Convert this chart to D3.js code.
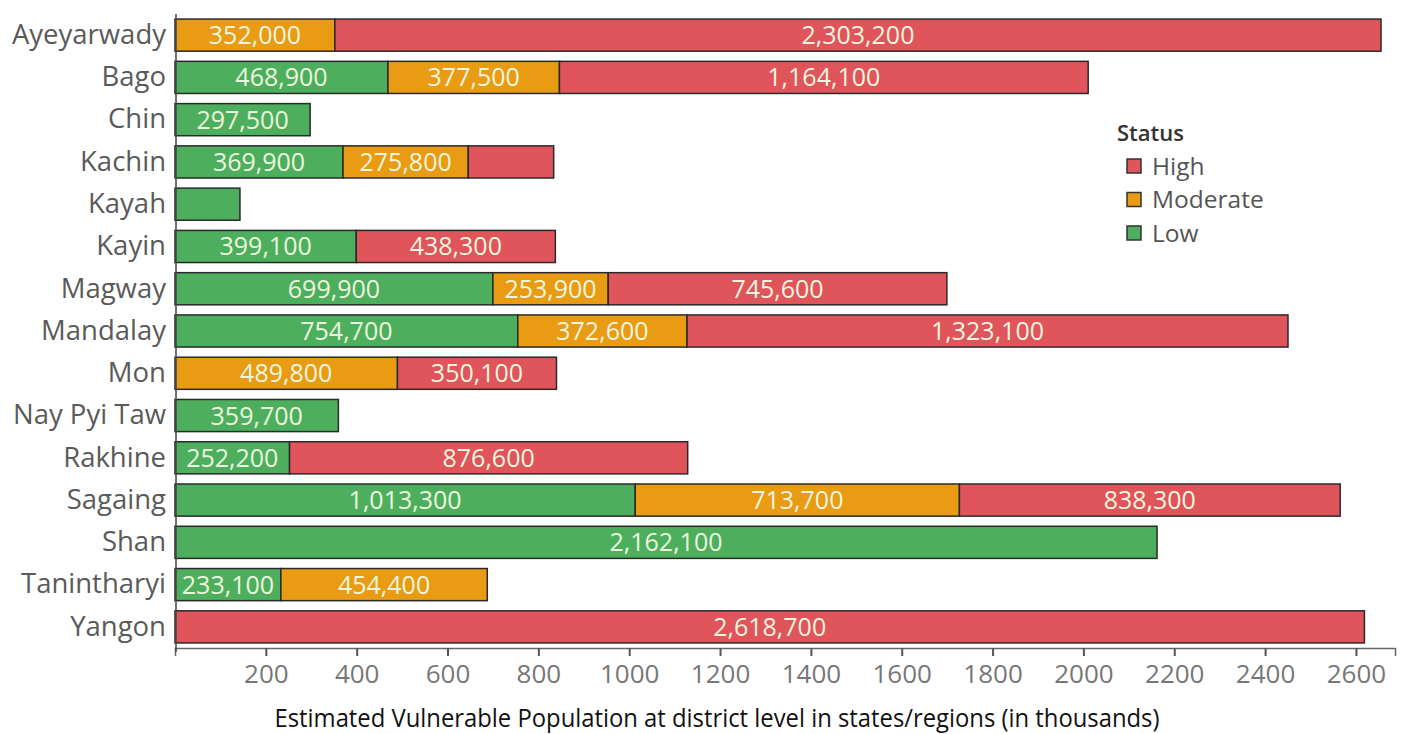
<!DOCTYPE html>
<html>
<head>
<meta charset="utf-8">
<script src="https://cdn.jsdelivr.net/npm/d3@7"></script>
<style>
  body { margin: 0; background: #fff; }
  svg text { font-family: "Open Sans", "Noto Sans", sans-serif; }
</style>
</head>
<body>
<div id="chart"></div>
<script>
var regions = ["Ayeyarwady", "Bago", "Chin", "Kachin", "Kayah", "Kayin", "Magway",
  "Mandalay", "Mon", "Nay Pyi Taw", "Rakhine", "Sagaing", "Shan", "Tanintharyi", "Yangon"];

// thousands of people
var lowValues      = [0, 468.9, 297.5, 369.9, 143, 399.1, 699.9, 754.7, 0, 359.7, 252.2, 1013.3, 2162.1, 233.1, 0];
var moderateValues = [352.0, 377.5, 0, 275.8, 0, 0, 253.9, 372.6, 489.8, 0, 0, 713.7, 0, 454.4, 0];
var highValues     = [2303.2, 1164.1, 0, 188, 0, 438.3, 745.6, 1323.1, 350.1, 0, 876.6, 838.3, 0, 0, 2618.7];

var statuses = ["Low", "Moderate", "High"];
var legendOrder = ["High", "Moderate", "Low"];
var xTicks = [200, 400, 600, 800, 1000, 1200, 1400, 1600, 1800, 2000, 2200, 2400, 2600];

var colors = { Low: "#4daf5e", Moderate: "#e99b14", High: "#e0545b" };

var width = 1403, height = 734;
var margin = {top: 14, right: 8, bottom: 86, left: 175};

var rows = regions.map(function(r, i) {
  return { region: r, Low: lowValues[i], Moderate: moderateValues[i], High: highValues[i] };
});

var svg = d3.select("#chart").append("svg")
    .attr("width", width)
    .attr("height", height);

var x = d3.scaleLinear().domain([0, 2686]).range([margin.left, width - margin.right]);
var y = d3.scaleBand().domain(regions).range([margin.top, height - margin.bottom])
    .paddingInner(0.24).paddingOuter(0.12);

var stacked = d3.stack().keys(statuses)(rows);

var layer = svg.selectAll(".layer")
    .data(stacked)
  .enter().append("g")
    .attr("class", "layer");

layer.selectAll("rect")
    .data(function(d) { return d.filter(function(s) { return s[1] - s[0] > 0; }); })
  .enter().append("rect")
    .attr("x", function(d) { return x(d[0]); })
    .attr("y", function(d) { return y(d.data.region); })
    .attr("width", function(d) { return x(d[1]) - x(d[0]); })
    .attr("height", y.bandwidth())
    .attr("fill", function() { return colors[d3.select(this.parentNode).datum().key]; })
    .attr("stroke", "#2a2a2a")
    .attr("stroke-width", 1.5);

// value labels, skip the small segments
layer.selectAll("text")
    .data(function(d) { return d.filter(function(s) { return s[1] - s[0] >= 200; }); })
  .enter().append("text")
    .attr("x", function(d) { return (x(d[0]) + x(d[1])) / 2; })
    .attr("y", function(d) { return y(d.data.region) + y.bandwidth() / 2; })
    .attr("dy", "0.36em")
    .attr("text-anchor", "middle")
    .attr("fill", "#ecf6df")
    .style("font-size", "25px")
    .text(function(d) { return d3.format(",")(Math.round((d[1] - d[0]) * 1000)); });

// axes
var xAxis = svg.append("g")
    .attr("transform", "translate(0," + (height - margin.bottom) + ")")
    .call(d3.axisBottom(x).tickValues(xTicks).tickFormat(d3.format("d")).tickSize(8).tickPadding(9));
xAxis.select(".domain").attr("stroke", "#666").attr("stroke-width", 1.5);
xAxis.selectAll(".tick line").attr("stroke", "#555").attr("stroke-width", 2);
xAxis.selectAll(".tick text")
    .attr("fill", "#777")
    .style("font-size", "26px");

var yAxis = svg.append("g")
    .attr("transform", "translate(" + (margin.left + 1) + ",0)")
    .call(d3.axisLeft(y).tickSize(0).tickPadding(10));
yAxis.select(".domain").attr("stroke", "#444").attr("stroke-width", 1.5)
    .attr("d", "M0," + margin.top + "V" + (height - margin.bottom + 4));
yAxis.selectAll(".tick text")
    .attr("fill", "#5a5a5a")
    .style("font-size", "27.5px");

svg.append("text")
    .attr("x", 717)
    .attr("y", 727)
    .attr("text-anchor", "middle")
    .attr("fill", "#111")
    .attr("textLength", 885)
    .attr("lengthAdjust", "spacingAndGlyphs")
    .style("font-size", "26px")
    .text("Estimated Vulnerable Population at district level in states/regions (in thousands)");

// legend
var legend = svg.append("g").attr("transform", "translate(1117,133)");
legend.append("text")
    .attr("x", 0)
    .attr("y", 8)
    .attr("fill", "#333")
    .style("font-size", "22px")
    .style("font-weight", "600")
    .text("Status");

var item = legend.selectAll(".item")
    .data(legendOrder)
  .enter().append("g")
    .attr("class", "item")
    .attr("transform", function(d, i) { return "translate(10," + (33 + i * 33.5) + ")"; });
item.append("rect")
    .attr("x", 0).attr("y", -7)
    .attr("width", 14).attr("height", 14)
    .attr("fill", function(d) { return colors[d]; })
    .attr("stroke", "#333")
    .attr("stroke-width", 1.5);
item.append("text")
    .attr("x", 25)
    .attr("dy", "0.35em")
    .attr("fill", "#555")
    .style("font-size", "24.5px")
    .text(function(d) { return d; });
</script>
</body>
</html>
